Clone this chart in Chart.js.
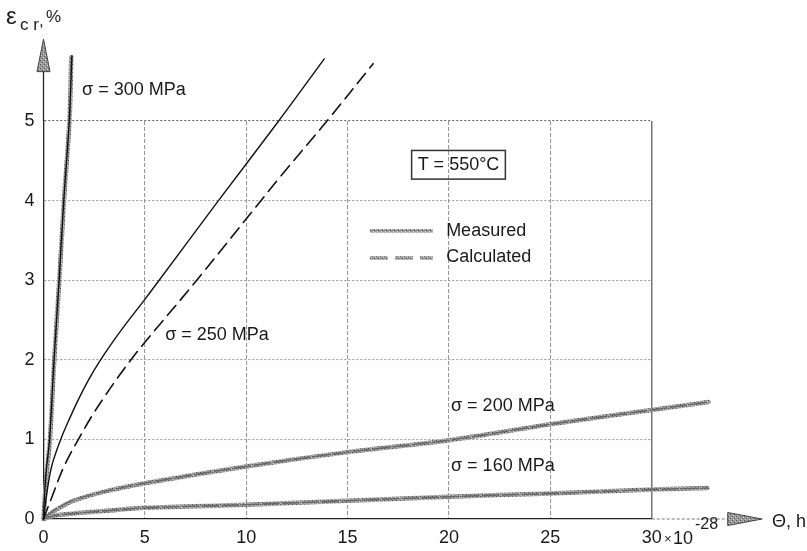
<!DOCTYPE html>
<html><head><meta charset="utf-8">
<script src="https://cdn.jsdelivr.net/npm/chart.js@4/dist/chart.umd.min.js"></script>
<style>html,body{margin:0;padding:0;background:#fff}</style>
</head><body>
<canvas id="c" width="807" height="551"></canvas>
<script>
// ---- tick labels ----
const xTicks = [0, 5, 10, 15, 20, 25, 30];
const yTicks = [0, 1, 2, 3, 4, 5];

// ---- series (time θ ×10^-28 h, creep strain %) ----
const t300m = [0, 0.06, 0.15, 0.32, 0.53, 0.78, 1.01, 1.28, 1.37];
const e300m = [0, 0.25, 0.55, 1.0, 2.0, 3.0, 4.0, 5.0, 5.8];
const t300c = [0, 0.04, 0.13, 0.30, 0.52, 0.77, 1.0, 1.27, 1.40];
const e300c = [0, 0.25, 0.6, 1.0, 2.0, 3.0, 4.0, 5.0, 5.82];

const t250m = [0, 0.15, 0.40, 0.85, 1.3, 1.72, 2.25, 2.79, 3.4, 4.0, 5.0, 5.65, 8.6, 11.6, 13.85];
const e250m = [0, 0.3, 0.66, 1.0, 1.27, 1.5, 1.76, 1.99, 2.22, 2.43, 2.76, 2.98, 3.99, 5.0, 5.78];
const t250c = [0, 0.48, 1.01, 1.72, 2.4, 3.1, 3.7, 4.25, 5.0, 7.56, 11.68, 13.98, 16.26];
const e250c = [0, 0.32, 0.66, 1.0, 1.3, 1.57, 1.79, 1.98, 2.22, 3.0, 4.30, 5.0, 5.72];

const t200m = [0, 0.3, 0.65, 1.5, 3.1, 5, 10, 15, 20, 25, 30, 32.8];
const e200m = [0, 0.06, 0.12, 0.23, 0.35, 0.45, 0.66, 0.84, 0.99, 1.19, 1.37, 1.47];
const t200c = [0, 0.3, 0.65, 1.5, 3.1, 5, 10, 15, 20, 25, 30, 32.8];
const e200c = [0, 0.07, 0.13, 0.24, 0.35, 0.45, 0.66, 0.84, 0.99, 1.19, 1.37, 1.47];

const t160m = [0, 0.5, 1.5, 3, 5, 10, 15, 20, 25, 30, 32.75];
const e160m = [0, 0.04, 0.07, 0.10, 0.14, 0.18, 0.23, 0.28, 0.32, 0.37, 0.39];
const t160c = [0, 0.5, 1.5, 3, 5, 10, 15, 20, 25, 30, 32.75];
const e160c = [0, 0.04, 0.07, 0.10, 0.14, 0.18, 0.23, 0.28, 0.32, 0.37, 0.39];

const seriesLabels = ['σ = 300 MPa', 'σ = 250 MPa', 'σ = 200 MPa', 'σ = 160 MPa'];
const legendLabels = ['Measured', 'Calculated'];
const tempLabel = 'T = 550°C';

const FONT = "'Liberation Sans', Arial, sans-serif";
const pts = (xs, ys) => xs.map((x, i) => ({x, y: ys[i]}));

// textured grey for "measured" lines
function makePattern() {
  const p = document.createElement('canvas');
  p.width = 4; p.height = 4;
  const g = p.getContext('2d');
  g.fillStyle = '#9a9a9a'; g.fillRect(0, 0, 4, 4);
  g.fillStyle = '#555'; g.fillRect(0, 0, 1, 1); g.fillRect(2, 2, 1, 1);
  g.fillStyle = '#d0d0d0'; g.fillRect(1, 3, 1, 1); g.fillRect(3, 1, 1, 1);
  return g.createPattern(p, 'repeat');
}
const ctx0 = document.getElementById('c').getContext('2d');
const texture = makePattern();

function ds(xs, ys, style) {
  return Object.assign({
    data: pts(xs, ys), pointRadius: 0, fill: false, clip: false,
    tension: 0.35, borderCapStyle: 'round'
  }, style);
}
const measured = {borderColor: texture, borderWidth: 4.5, order: 3};
const thinSolid = {borderColor: '#111', borderWidth: 1.4, order: 1};
const dashBlack = {borderColor: '#111', borderWidth: 1.6, borderDash: [13, 7], order: 1};
const dashGrey = {borderColor: '#666', borderWidth: 1.4, borderDash: [16, 4], order: 2};

const datasets = [
  ds(t300m, e300m, measured),
  ds(t300c, e300c, thinSolid),
  ds(t250m, e250m, thinSolid),
  ds(t250c, e250c, dashBlack),
  ds(t200m, e200m, measured),
  ds(t200c, e200c, dashGrey),
  ds(t160m, e160m, measured),
  ds(t160c, e160c, dashGrey)
];

const decor = {
  id: 'decor',
  beforeDatasetsDraw(chart) {
    const {ctx, scales: {x, y}} = chart;
    ctx.save();
    const x0 = x.getPixelForValue(0);
    ctx.strokeStyle = '#222'; ctx.lineWidth = 1.3;
    ctx.beginPath(); ctx.moveTo(x0, y.getPixelForValue(5)); ctx.lineTo(x0, y.getPixelForValue(5.64)); ctx.stroke();
    const yb = y.getPixelForValue(5.62), yt = y.getPixelForValue(6.03);
    ctx.beginPath(); ctx.moveTo(x0, yt); ctx.lineTo(x0 - 6.5, yb); ctx.lineTo(x0 + 6.5, yb); ctx.closePath();
    ctx.fillStyle = texture; ctx.fill(); ctx.strokeStyle = '#444'; ctx.lineWidth = 1; ctx.stroke();
    const y0 = y.getPixelForValue(0);
    ctx.strokeStyle = '#777'; ctx.lineWidth = 1.2; ctx.setLineDash([3, 2]);
    ctx.beginPath(); ctx.moveTo(x.getPixelForValue(30), y0); ctx.lineTo(x.getPixelForValue(33.8), y0); ctx.stroke();
    ctx.setLineDash([]);
    const xb = x.getPixelForValue(33.75), xt = x.getPixelForValue(35.45);
    ctx.beginPath(); ctx.moveTo(xt, y0); ctx.lineTo(xb, y0 - 6.5); ctx.lineTo(xb, y0 + 6.5); ctx.closePath();
    ctx.fillStyle = texture; ctx.fill(); ctx.strokeStyle = '#444'; ctx.lineWidth = 1; ctx.stroke();
    ctx.restore();
  },
  afterDatasetsDraw(chart) {
    const {ctx, scales: {x, y}} = chart;
    const px = v => x.getPixelForValue(v), py = v => y.getPixelForValue(v);
    ctx.save();
    ctx.fillStyle = '#1a1a1a';
    ctx.textBaseline = 'middle'; ctx.textAlign = 'left';
    ctx.font = '18px ' + FONT;
    ctx.fillText(seriesLabels[0], px(1.9), py(5.39));
    ctx.fillText(seriesLabels[1], px(6.0), py(2.31));
    ctx.fillText(seriesLabels[2], px(20.1), py(1.42));
    ctx.fillText(seriesLabels[3], px(20.1), py(0.67));
    ctx.textAlign = 'center';
    ctx.fillText(tempLabel, px(20.47), py(4.45));
    const w = ctx.measureText(tempLabel).width + 12;
    ctx.strokeStyle = '#333'; ctx.lineWidth = 1.5;
    ctx.strokeRect(px(20.47) - w / 2, py(4.63), w, py(4.27) - py(4.63));
    ctx.textAlign = 'left';
    const lx1 = px(16.1), lx2 = px(19.2);
    ctx.lineWidth = 3.5; ctx.strokeStyle = texture;
    ctx.beginPath(); ctx.moveTo(lx1, py(3.62)); ctx.lineTo(lx2, py(3.62)); ctx.stroke();
    ctx.setLineDash([18, 7]);
    ctx.beginPath(); ctx.moveTo(lx1, py(3.28)); ctx.lineTo(lx2, py(3.28)); ctx.stroke();
    ctx.setLineDash([]);
    ctx.fillText(legendLabels[0], px(19.86), py(3.62));
    ctx.fillText(legendLabels[1], px(19.86), py(3.29));
    // axis titles
    ctx.font = '24px ' + FONT;
    ctx.textBaseline = 'alphabetic';
    ctx.fillText('ε', 6, 24);
    ctx.font = '17px ' + FONT;
    ctx.fillText('c r', 20, 30);
    ctx.fillText(',', 39, 26);
    ctx.font = '17px ' + FONT;
    ctx.fillText('%', 46, 22);
    ctx.font = '18px ' + FONT;
    ctx.textBaseline = 'middle';
    ctx.fillText('Θ, h', 772, py(0) + 3);
    ctx.font = '13px ' + FONT;
    ctx.fillText('×', 664, 539);
    ctx.font = '18px ' + FONT;
    ctx.fillText('10', 673, 539);
    ctx.font = '16px ' + FONT;
    ctx.fillText('-28', 695, 525);
    ctx.restore();
  }
};

new Chart(ctx0, {
  type: 'line',
  data: {datasets},
  plugins: [decor],
  options: {
    responsive: false, animation: false,
    layout: {padding: {left: 0, top: 121, right: 155.3, bottom: 0}},
    plugins: {legend: {display: false}, tooltip: {enabled: false}},
    scales: {
      x: {
        type: 'linear', bounds: 'data',
        afterDataLimits: s => { s.min = 0; s.max = 30; },
        afterBuildTicks: s => { s.ticks = xTicks.map(v => ({value: v})); },
        afterFit: s => { s.height = 32; },
        ticks: {font: {size: 18, family: FONT}, color: '#1a1a1a', padding: 8, maxRotation: 0},
        grid: {
          drawTicks: false,
          color: c => c.tick.value === 0 ? 'rgba(0,0,0,0)' : (c.tick.value === 30 ? '#777' : '#9a9a9a'),
          lineWidth: c => c.tick.value === 30 ? 1.5 : 1.1
        },
        border: {color: '#222', width: 1.3, dash: c => c.tick && c.tick.value === 30 ? [] : [4, 2]}
      },
      y: {
        type: 'linear', bounds: 'data',
        afterDataLimits: s => { s.min = 0; s.max = 5; },
        afterBuildTicks: s => { s.ticks = yTicks.map(v => ({value: v})); },
        afterFit: s => { s.width = 43.5; },
        ticks: {font: {size: 18, family: FONT}, color: '#1a1a1a', padding: 9},
        grid: {
          drawTicks: false,
          color: c => c.tick.value === 0 ? 'rgba(0,0,0,0)' : (c.tick.value === 5 ? '#666' : '#9a9a9a'),
          lineWidth: 1.1
        },
        border: {color: '#222', width: 1.3, dash: [2, 2]}
      }
    }
  }
});
</script>
</body></html>
